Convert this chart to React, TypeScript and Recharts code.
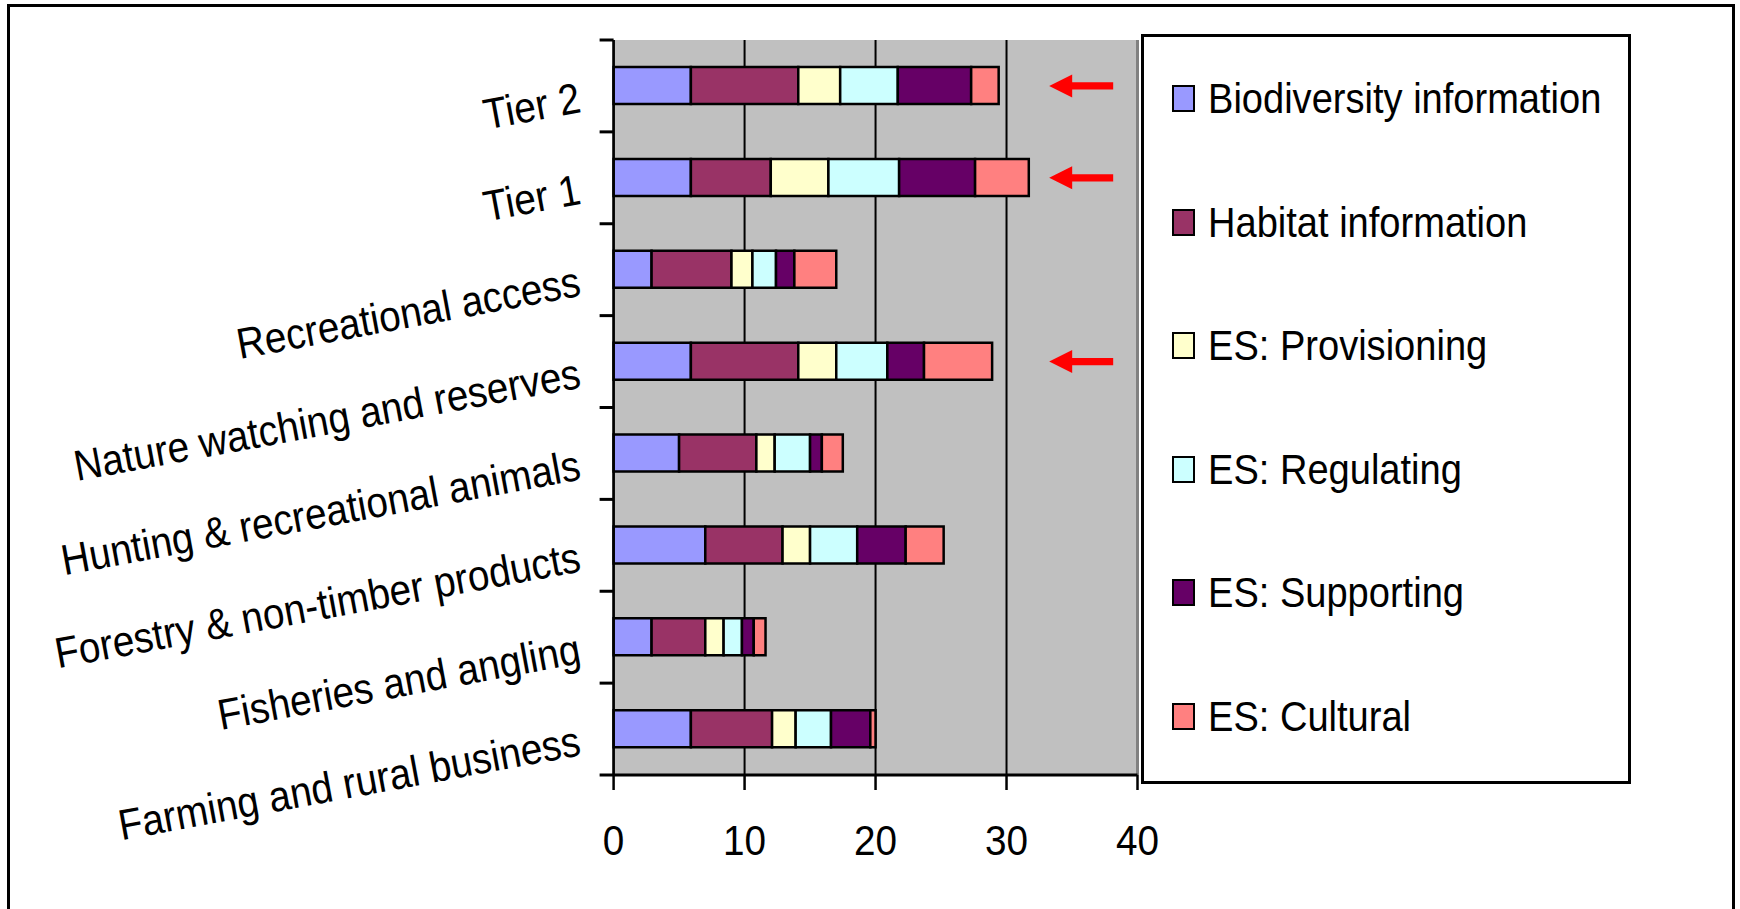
import React from "react";
import {
  BarChart,
  Bar,
  XAxis,
  YAxis,
  CartesianGrid,
  ReferenceLine,
  ReferenceDot,
} from "recharts";

const categories = [
  "Tier 2",
  "Tier 1",
  "Recreational access",
  "Nature watching and reserves",
  "Hunting & recreational animals",
  "Forestry & non-timber products",
  "Fisheries and angling",
  "Farming and rural business",
];

const biodiversity = [5.9, 5.9, 2.9, 5.9, 5.0, 7.0, 2.9, 5.9];
const habitat = [8.2, 6.1, 6.1, 8.2, 5.9, 5.9, 4.1, 6.2];
const provisioning = [3.2, 4.4, 1.6, 2.9, 1.4, 2.1, 1.4, 1.8];
const regulating = [4.4, 5.4, 1.8, 3.9, 2.7, 3.6, 1.4, 2.7];
const supporting = [5.6, 5.8, 1.4, 2.8, 0.9, 3.7, 0.9, 3.0];
const cultural = [2.1, 4.1, 3.2, 5.2, 1.6, 2.9, 0.9, 0.4];

const xTicks = [0, 10, 20, 30, 40];

// rows flagged with a red arrow, and where the arrow sits on the value axis
const arrowRows = ["Tier 2", "Tier 1", "Nature watching and reserves"];
const arrowAt = 35.7;

const series = [
  { key: "bio", name: "Biodiversity information", color: "#9999FF", values: biodiversity },
  { key: "hab", name: "Habitat information", color: "#993366", values: habitat },
  { key: "prov", name: "ES: Provisioning", color: "#FFFFCC", values: provisioning },
  { key: "reg", name: "ES: Regulating", color: "#CCFFFF", values: regulating },
  { key: "sup", name: "ES: Supporting", color: "#660066", values: supporting },
  { key: "cult", name: "ES: Cultural", color: "#FF8080", values: cultural },
];

const data = categories.map((name, i) => {
  const row: Record<string, string | number> = { name };
  series.forEach((s) => {
    row[s.key] = s.values[i];
  });
  return row;
});

const W = 1740;
const H = 909;
const PLOT_LEFT = 613.6;
const PLOT_RIGHT = 1137.5;
const PLOT_TOP = 40;
const PLOT_BOTTOM = 775;
const BAND = (PLOT_BOTTOM - PLOT_TOP) / categories.length;
const FONT = '"Liberation Sans", Arial, sans-serif';

function YTick({ x, y, payload, index }: any) {
  const half = BAND / 2;
  return (
    <g>
      <line x1={x} x2={x + 14} y1={y - half} y2={y - half} stroke="#000" strokeWidth={3} />
      {index === categories.length - 1 && (
        <line x1={x} x2={x + 14} y1={y + half} y2={y + half} stroke="#000" strokeWidth={3} />
      )}
      <text
        transform={`translate(${x - 20},${y + 11}) rotate(-10.5) scale(0.9,1)`}
        textAnchor="end"
        dy="0.35em"
        fontSize={43}
        fontFamily={FONT}
        fill="#000"
      >
        {payload.value}
      </text>
    </g>
  );
}

function XTick({ x, y, payload }: any) {
  return (
    <text
      transform={`translate(${x},${y + 65}) scale(0.9,1)`}
      textAnchor="middle"
      fontSize={43}
      fontFamily={FONT}
      fill="#000"
    >
      {payload.value}
    </text>
  );
}

function Arrow({ cx, cy }: any) {
  if (cx == null || cy == null) return null;
  const pts = [
    [cx - 32, cy],
    [cx - 9, cy - 11.5],
    [cx - 9, cy - 3.6],
    [cx + 32, cy - 3.6],
    [cx + 32, cy + 3.6],
    [cx - 9, cy + 3.6],
    [cx - 9, cy + 11.5],
  ]
    .map((p) => p.join(","))
    .join(" ");
  return <polygon points={pts} fill="#FF0000" />;
}

function Legend() {
  return (
    <div
      style={{
        position: "absolute",
        left: 1141,
        top: 34,
        width: 490,
        height: 750,
        boxSizing: "border-box",
        border: "3px solid #000",
        background: "#fff",
        fontFamily: FONT,
      }}
    >
      {series.map((s) => (
        <div
          key={s.key}
          style={{
            height: 123.5,
            display: "flex",
            alignItems: "center",
            position: "relative",
          }}
        >
          <div
            style={{
              position: "absolute",
              left: 28,
              width: 23,
              height: 27,
              boxSizing: "border-box",
              border: "2.5px solid #000",
              background: s.color,
            }}
          />
          <div
            style={{
              position: "absolute",
              left: 64,
              fontSize: 43,
              lineHeight: "43px",
              whiteSpace: "nowrap",
              transform: "scaleX(0.885)",
              transformOrigin: "left center",
              color: "#000",
            }}
          >
            {s.name}
          </div>
        </div>
      ))}
    </div>
  );
}

export default function App() {
  return (
    <div
      style={{
        position: "absolute",
        left: 0,
        top: 0,
        width: W,
        height: H,
        overflow: "hidden",
        background: "#fff",
      }}
    >
      <div
        style={{
          position: "absolute",
          left: 6.5,
          top: 4,
          width: 1728,
          height: 930,
          boxSizing: "border-box",
          border: "3px solid #000",
        }}
      />
      <div style={{ position: "absolute", left: 0, top: 0 }}>
        <BarChart
          width={W}
          height={H}
          data={data}
          layout="vertical"
          margin={{ top: PLOT_TOP, right: W - PLOT_RIGHT, left: PLOT_LEFT - 600, bottom: H - PLOT_BOTTOM - 100 }}
          barSize={37}
        >
          <CartesianGrid
            horizontal={false}
            stroke="#000"
            strokeWidth={2}
            fill="#C0C0C0"
            fillOpacity={1}
          />
          <XAxis
            type="number"
            domain={[0, 40]}
            ticks={xTicks}
            height={100}
            axisLine={{ stroke: "#000", strokeWidth: 3 }}
            tickLine={{ stroke: "#000", strokeWidth: 2.5 }}
            tickSize={15}
            tickMargin={0}
            tick={<XTick />}
            interval={0}
          />
          <YAxis
            type="category"
            dataKey="name"
            width={600}
            axisLine={{ stroke: "#000", strokeWidth: 2.5 }}
            tickLine={false}
            tickSize={14}
            tickMargin={0}
            tick={<YTick />}
            interval={0}
          />
          {series.map((s) => (
            <Bar
              key={s.key}
              dataKey={s.key}
              name={s.name}
              stackId="a"
              fill={s.color}
              stroke="#000"
              strokeWidth={2.5}
              isAnimationActive={false}
            />
          ))}
          <ReferenceLine x={40} stroke="#808080" strokeWidth={3} />
          {arrowRows.map((r) => (
            <ReferenceDot key={r} x={arrowAt} y={r} r={0} shape={<Arrow />} />
          ))}
        </BarChart>
      </div>
      <Legend />
    </div>
  );
}
